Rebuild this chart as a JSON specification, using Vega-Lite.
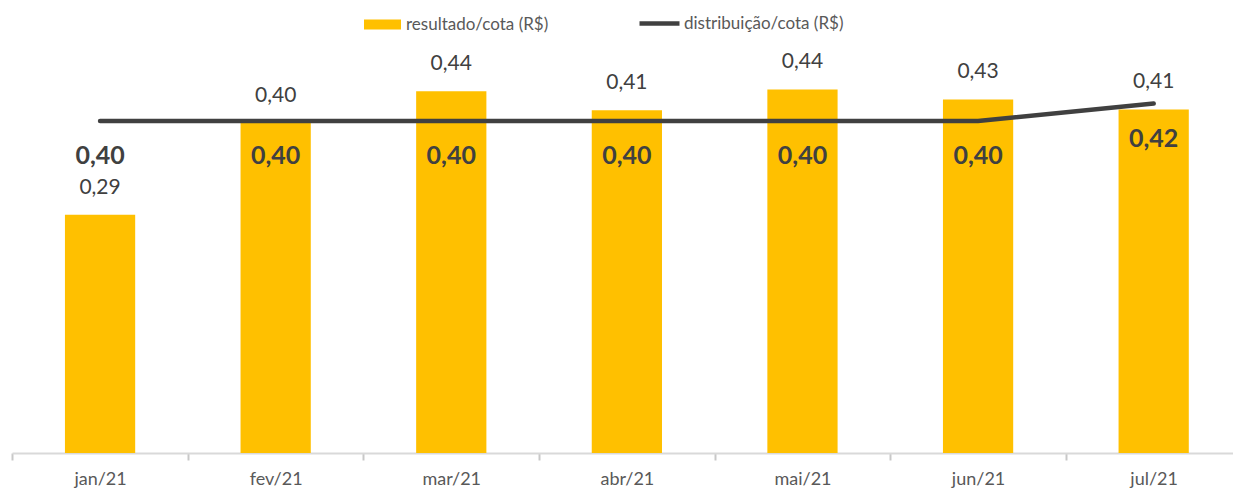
{
  "$schema": "https://vega.github.io/schema/vega-lite/v6.json",
  "width": 1221,
  "height": 453,
  "autosize": {"type": "none"},
  "padding": {"left": 12, "top": 0, "right": 0, "bottom": 37},
  "background": "white",
  "data": {
    "values": [
      {"mes": "jan/21", "resultado": 0.287, "distribuicao": 0.40},
      {"mes": "fev/21", "resultado": 0.398, "distribuicao": 0.40},
      {"mes": "mar/21", "resultado": 0.436, "distribuicao": 0.40},
      {"mes": "abr/21", "resultado": 0.413, "distribuicao": 0.40},
      {"mes": "mai/21", "resultado": 0.438, "distribuicao": 0.40},
      {"mes": "jun/21", "resultado": 0.426, "distribuicao": 0.40},
      {"mes": "jul/21", "resultado": 0.414, "distribuicao": 0.421}
    ]
  },
  "encoding": {
    "x": {
      "field": "mes",
      "type": "nominal",
      "sort": null,
      "scale": {"paddingInner": 0.6, "paddingOuter": 0.2766, "align": 0.545, "round": false},
      "axis": {
        "title": null,
        "labelAngle": 0,
        "domainColor": "#D9D9D9",
        "domainWidth": 2,
        "tickColor": "#C8C8C8",
        "tickWidth": 2,
        "tickSize": 7,
        "tickOffset": -87.8,
        "labelOffset": 87.8,
        "labelFont": "Lato",
        "labelFontSize": 18,
        "labelColor": "#595959",
        "labelPadding": 10
      }
    }
  },
  "layer": [
    {
      "mark": {"type": "bar"},
      "encoding": {
        "y": {"field": "resultado", "type": "quantitative", "scale": {"domain": [0, 0.5458], "nice": false}, "axis": null},
        "color": {
          "datum": "resultado/cota (R$)",
          "type": "nominal",
          "scale": {"range": ["#FFC000"]},
          "legend": {
            "orient": "none",
            "legendX": 352,
            "legendY": 6,
            "title": null,
            "symbolType": "M-1,-0.27H1V0.27H-1Z",
            "symbolSize": 1369,
            "symbolStrokeWidth": 0,
            "labelFont": "Lato",
            "labelFontSize": 17,
            "labelColor": "#595959",
            "labelOffset": 5
          }
        }
      }
    },
    {
      "mark": {"type": "line", "strokeWidth": 4.5, "strokeCap": "round"},
      "encoding": {
        "y": {"field": "distribuicao", "type": "quantitative"},
        "stroke": {
          "datum": "distribuição/cota (R$)",
          "type": "nominal",
          "scale": {"range": ["#404040"]},
          "legend": {
            "orient": "none",
            "legendX": 625,
            "legendY": 1,
            "title": null,
            "symbolType": "stroke",
            "symbolSize": 1600,
            "symbolStrokeWidth": 4.5,
            "labelFont": "Lato",
            "labelFontSize": 17,
            "labelColor": "#595959",
            "labelOffset": 2
          }
        }
      }
    },
    {
      "mark": {"type": "text", "baseline": "middle", "dy": -27, "font": "Lato", "fontSize": 21, "color": "#404040"},
      "encoding": {
        "y": {"field": "resultado", "type": "quantitative"},
        "text": {"field": "resultado", "type": "quantitative", "format": ".2f"}
      }
    },
    {
      "mark": {"type": "text", "baseline": "middle", "dy": 35, "font": "Lato", "fontSize": 25, "fontWeight": "bold", "color": "#404040"},
      "encoding": {
        "y": {"field": "distribuicao", "type": "quantitative"},
        "text": {"field": "distribuicao", "type": "quantitative", "format": ".2f"}
      }
    }
  ],
  "config": {
    "view": {"stroke": null},
    "locale": {"number": {"decimal": ",", "thousands": ".", "grouping": [3], "currency": ["R$ ", ""]}}
  }
}
